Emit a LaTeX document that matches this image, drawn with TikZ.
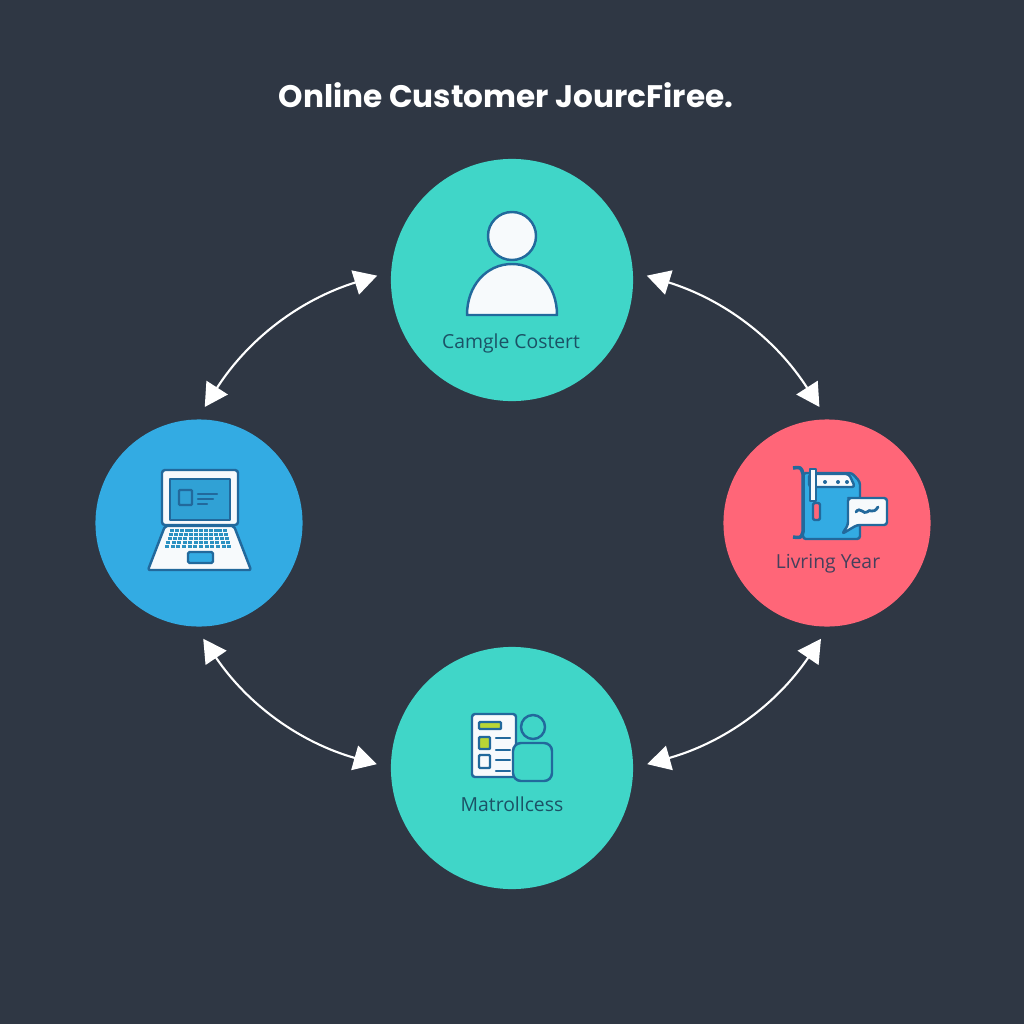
\documentclass[tikz,border=0pt]{standalone}
\usepackage{fontspec}
\setmainfont{Open Sans}
\newfontfamily\titlefont{Poppins}
\usetikzlibrary{arrows.meta}
\definecolor{bgdark}{HTML}{2F3744}
\definecolor{tealc}{HTML}{40D6C8}
\definecolor{bluec}{HTML}{33ABE3}
\definecolor{redc}{HTML}{FF6678}
\definecolor{inkc}{HTML}{22699C}
\definecolor{labelc}{HTML}{1B5266}
\definecolor{slatec}{HTML}{45405C}
\definecolor{limec}{HTML}{BAD636}
\definecolor{paperc}{HTML}{F7FAFC}
\tikzset{
  stage/.style={circle,inner sep=0pt,minimum size=#1},
  link/.style={draw=white,line width=.6pt,shorten <=#1,shorten >=#1,
    {Triangle[length=.23cm,width=.25cm]}-{Triangle[length=.23cm,width=.25cm]}},
  caption/.style={font=\fontsize{5.5pt}{7pt}\selectfont},
  icon/.style={draw=inkc,line width=.7pt,line join=round},
  thin line/.style={draw=inkc,line width=.7pt,line cap=round}
}
\begin{document}
\begin{tikzpicture}[x=.01cm,y=-.01cm]
\useasboundingbox (0,0) rectangle (1024,1024);
\fill[bgdark] (0,0) rectangle (1024,1024);
\node[text=white,font=\titlefont\bfseries\fontsize{8.85pt}{11pt}\selectfont] (title) at (506,95) {Online Customer JourcFiree.};
% the four stages
\node[stage=2.42cm,fill=tealc] (top) at (512,280) {};
\node[stage=2.07cm,fill=bluec] (left) at (199,523) {};
\node[stage=2.07cm,fill=redc] (right) at (827,523) {};
\node[stage=2.42cm,fill=tealc] (bottom) at (512,768) {};
% arrows
\draw[link=14*.01cm] (top.176) to[bend right=20] (left.91);
\draw[link=14*.01cm] (top.4) to[bend left=20] (right.90);
\draw[link=14*.01cm] (left.268) to[bend right=20] (bottom.180);
\draw[link=14*.01cm] (bottom.0) to[bend right=20] (right.271);
% person
\draw[icon,fill=paperc] (512,236) circle[radius=.24cm];
\draw[icon,fill=paperc] (467,315) .. controls (467,285) and (487,264) .. (512,264)
   .. controls (537,264) and (557,285) .. (557,315) -- cycle;
\node[caption,text=labelc] (toplabel) at (511,343) {Camgle Costert};
% laptop
\draw[icon,fill=paperc,rounded corners=.03cm] (162,470) rectangle (238,525);
\draw[icon,fill=bluec!94!black] (170,479) rectangle (230,520);
\draw[icon,rounded corners=.01cm] (179,490) rectangle (192,505);
\draw[thin line] (198,494) -- (217,494);
\draw[thin line] (198,499) -- (213,499);
\draw[thin line] (198,504) -- (207,504);
\draw[icon,fill=paperc,rounded corners=.02cm] (165,526) -- (234,526) -- (251,570) -- (148,570) -- cycle;
\foreach \r in {0,1,2,3,4}
  \foreach \k in {0,...,11}
    \fill[bluec!85!black] ({199-(29+\r*1.2)+\k*(58+\r*2.4)/12},{528.5+\r*4.2}) rectangle +(4,3);
\draw[icon,fill=bluec,rounded corners=.015cm] (188,552) rectangle (213,563);
% card and speech bubble
\draw[icon,fill=bluec,rounded corners=.03cm] (803,473) -- (852,473) -- (860,482) -- (860,539) -- (803,539) -- cycle;
\draw[icon,fill=paperc,rounded corners=.03cm] (809,474) -- (849,474) -- (855,487) -- (809,487) -- cycle;
\foreach \x in {825,838,847}
  \fill[inkc] (\x,482) circle[radius=.02cm];
\draw[icon,line width=1pt] (793,468) .. controls (801,467) .. (803,474) -- (803,532) .. controls (801,538) .. (793,537);
\draw[icon,fill=paperc] (810,469) rectangle (816,501);
\draw[icon,fill=redc,rounded corners=.02cm] (813,503) rectangle (820,520);
\draw[icon,fill=paperc,rounded corners=.03cm] (851,498) -- (887,498) -- (887,525) -- (857,525) -- (842,534) -- (848,525) -- (848,498) -- cycle;
\draw[thin line,line width=.8pt] (856,512) .. controls (860,506) and (864,515) .. (867,512)
   .. controls (870,508) and (873,515) .. (878,507);
\node[caption,text=slatec] (rightlabel) at (828,564) {Livring Year};
% report and user
\draw[icon,fill=paperc,rounded corners=.03cm] (472,714) rectangle (516,777);
\draw[icon,fill=limec,rounded corners=.01cm] (479,722) rectangle (501,729);
\draw[icon,fill=limec,rounded corners=.01cm] (479,737) rectangle (490,749);
\draw[icon,fill=paperc,rounded corners=.01cm] (479,755) rectangle (490,768);
\foreach \y in {738,750,760,771}
  \draw[thin line] (496,\y) -- (510,\y);
\draw[icon,fill=tealc] (533,727) circle[radius=.12cm];
\draw[icon,fill=tealc,rounded corners=.08cm] (513,743) rectangle (552,781);
\node[caption,text=labelc] (bottomlabel) at (512,804) {Matrollcess};
\end{tikzpicture}
\end{document}
